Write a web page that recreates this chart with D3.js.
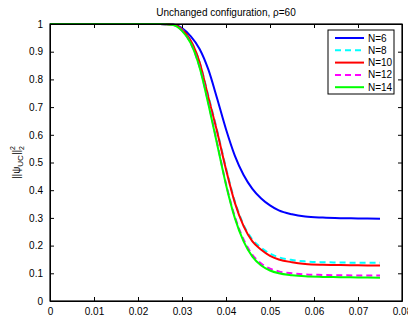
<!DOCTYPE html>
<html>
<meta charset="utf-8">
<title>Unchanged configuration</title>
<style>
  body { margin: 0; background: #fff; font-family: "Liberation Sans", Arial, sans-serif; }
  .axis path, .axis line { stroke: #000; }
  .axis text { font-size: 10px; fill: #000; }
</style>
<script src="https://d3js.org/d3.v7.min.js"></script>
<body>
<script>
// values
var xs = [0, 0.01, 0.02, 0.025, 0.028, 0.030, 0.032, 0.034, 0.036, 0.038, 0.040, 0.042, 0.044, 0.046, 0.048, 0.050, 0.052, 0.055, 0.058, 0.062, 0.066, 0.070, 0.075];
var n6  = [1, 1, 1, 1, 0.998, 0.985, 0.955, 0.91, 0.835, 0.73, 0.62, 0.525, 0.455, 0.405, 0.37, 0.345, 0.327, 0.313, 0.305, 0.301, 0.299, 0.298, 0.297];
var n8  = [1, 1, 1, 1, 0.997, 0.98, 0.94, 0.862, 0.74, 0.615, 0.48, 0.36, 0.275, 0.222, 0.192, 0.171, 0.158, 0.148, 0.143, 0.140, 0.139, 0.138, 0.138];
var n10 = [1, 1, 1, 1, 0.997, 0.98, 0.94, 0.862, 0.735, 0.61, 0.475, 0.355, 0.27, 0.215, 0.185, 0.163, 0.150, 0.140, 0.134, 0.131, 0.130, 0.129, 0.128];
var n12 = [1, 1, 1, 1, 0.996, 0.976, 0.93, 0.845, 0.715, 0.57, 0.423, 0.305, 0.222, 0.167, 0.135, 0.117, 0.107, 0.100, 0.096, 0.094, 0.093, 0.092, 0.092];
var n14 = [1, 1, 1, 1, 0.996, 0.975, 0.93, 0.843, 0.71, 0.565, 0.42, 0.30, 0.215, 0.160, 0.128, 0.110, 0.100, 0.093, 0.089, 0.087, 0.086, 0.085, 0.084];
var names = ['N=6', 'N=8', 'N=10', 'N=12', 'N=14'];
var colors = ['#0000ff', '#00ffff', '#ff0000', '#ff00ff', '#00ff00'];
var dashes = [null, '6,4', null, '6,4', null];
var xTicks = [0, 0.01, 0.02, 0.03, 0.04, 0.05, 0.06, 0.07, 0.08];
var yTicks = [0, 0.1, 0.2, 0.3, 0.4, 0.5, 0.6, 0.7, 0.8, 0.9, 1];

var W = 408, H = 322;
var margin = {top: 24, right: 6, bottom: 21, left: 50},
    width = W - margin.left - margin.right,
    height = H - margin.top - margin.bottom;

var svg = d3.select('body').append('svg')
    .attr('width', W).attr('height', H)
    .style('display', 'block');

var g = svg.append('g')
    .attr('transform', 'translate(' + margin.left + ',' + margin.top + ')');

var x = d3.scaleLinear().domain([0, 0.08]).range([0, width]);
var y = d3.scaleLinear().domain([0, 1]).range([height, 0]);

// curves
var series = [n6, n8, n10, n12, n14];
var line = d3.line()
    .x(function(d, i) { return x(xs[i]); })
    .y(function(d) { return y(d); })
    .curve(d3.curveMonotoneX);

series.forEach(function(s, k) {
  g.append('path')
    .datum(s)
    .attr('fill', 'none')
    .attr('stroke', colors[k])
    .attr('stroke-width', 2)
    .attr('stroke-dasharray', dashes[k])
    .attr('d', line);
});

// axes, ticks inward on all four sides
g.append('g').attr('class', 'axis')
  .attr('transform', 'translate(0,' + height + ')')
  .call(d3.axisBottom(x).tickValues(xTicks).tickSizeInner(-4).tickSizeOuter(0).tickPadding(7)
        .tickFormat(function(d) { return d === 0 ? '0' : d3.format('.2f')(d); }));
g.append('g').attr('class', 'axis')
  .call(d3.axisLeft(y).tickValues(yTicks).tickSizeInner(-4).tickSizeOuter(0).tickPadding(7)
        .tickFormat(function(d) { return d === 0 || d === 1 ? d3.format('d')(d) : d3.format('.1f')(d); }));
g.append('g').attr('class', 'axis')
  .call(d3.axisTop(x).tickValues(xTicks).tickSizeInner(-4).tickSizeOuter(0).tickFormat(''));
g.append('g').attr('class', 'axis')
  .attr('transform', 'translate(' + width + ',0)')
  .call(d3.axisRight(y).tickValues(yTicks).tickSizeInner(-4).tickSizeOuter(0).tickFormat(''));

g.append('rect')
  .attr('width', width).attr('height', height)
  .attr('fill', 'none').attr('stroke', '#000').attr('stroke-width', 1.2);

// title
svg.append('text')
  .attr('x', margin.left + width / 2).attr('y', 16)
  .attr('text-anchor', 'middle')
  .style('font-size', '10px')
  .text('Unchanged configuration, \u03c1=60');

// y label
var yl = svg.append('text')
  .attr('transform', 'translate(20,' + (margin.top + height / 2) + ') rotate(-90)')
  .attr('text-anchor', 'middle')
  .style('font-size', '10px');
yl.append('tspan').text('||\u03c8');
yl.append('tspan').attr('dy', 3).style('font-size', '8px').text('UC');
yl.append('tspan').attr('dy', -3).text('||');
yl.append('tspan').attr('dy', -5).style('font-size', '7px').text('2');
yl.append('tspan').attr('dx', -4).attr('dy', 9).style('font-size', '7px').text('2');

// x label, mostly below the window
svg.append('text')
  .attr('x', margin.left + width / 2).attr('y', 329)
  .attr('text-anchor', 'middle')
  .style('font-size', '10px')
  .text('\u03b5');

// legend
var lg = svg.append('g').attr('transform', 'translate(328,30)');
lg.append('rect')
  .attr('width', 66).attr('height', 64)
  .attr('fill', '#fff').attr('stroke', '#000').attr('stroke-width', 1);
names.forEach(function(n, k) {
  var yy = 8 + k * 12.3;
  lg.append('line')
    .attr('x1', 7).attr('x2', 36).attr('y1', yy).attr('y2', yy)
    .attr('stroke', colors[k]).attr('stroke-width', 2)
    .attr('stroke-dasharray', dashes[k]);
  lg.append('text')
    .attr('x', 40).attr('y', yy + 3.5)
    .style('font-size', '10px')
    .text(n);
});
</script>
</body>
</html>
